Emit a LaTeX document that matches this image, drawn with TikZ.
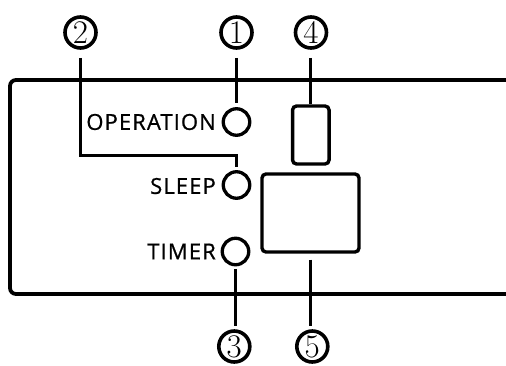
\documentclass[tikz,border=0pt]{standalone}
\usepackage{fontspec}
\newfontfamily\lblfont{Open Sans}[LetterSpace=5,FakeBold=0.8]
\begin{document}
\begin{tikzpicture}[x=1pt,y=-1pt,
  numc/.style={circle,draw,line width=3.6pt,minimum size=31pt,inner sep=0pt,
    font=\fontsize{33}{33}\selectfont},
  led/.style={circle,draw,line width=3.3pt,minimum size=26.5pt,inner sep=0pt},
  lbl/.style={anchor=east,inner sep=0pt,font=\lblfont\fontsize{22}{22}\selectfont},
  lead/.style={line width=3.2pt},
  box/.style={draw,line width=3.4pt,rounded corners=4pt,inner sep=0pt}]
\useasboundingbox (0,0) rectangle (506,365);
\clip (0,0) rectangle (506,365);
% outer panel
\draw[line width=3.8pt,rounded corners=6pt] (10,80) rectangle (520,294);
% indicator lamps
\node[led] (op) at (236.5,122) {};
\node[led] (sl) at (236.5,185) {};
\node[led] (ti) at (235.5,251.5) {};
\node[lbl] (opl) at (216,122) {OPERATION};
\node[lbl] (sll) at (216,186) {SLEEP};
\node[lbl] (til) at (216,251.5) {TIMER};
% displays
\node[box,minimum width=36.5pt,minimum height=58pt] (small) at (310.8,135) {};
\node[box,minimum width=97pt,minimum height=78pt] (big) at (310.5,213) {};
% circled numbers
\node[numc] (n2) at (80.5,32.5) {2};
\node[numc] (n1) at (236.5,32.5) {1};
\node[numc] (n4) at (311,32.5) {4};
\node[numc] (n3) at (234.3,346.5) {3};
\node[numc] (n5) at (312.3,346.5) {5};
% leaders
\draw[lead] ([yshift=-8pt]n2.south) -- ++(0,98) -| ([yshift=3pt]sl.north);
\draw[lead] ([yshift=-8pt]n1.south) -- ([yshift=4pt]op.north);
\draw[lead] ([yshift=-8pt]small.north |- n4.south) -- (small.north);
\draw[lead] ([yshift=-3pt]ti.south) -- ([yshift=3pt]ti.south |- n3.north);
\draw[lead] ([yshift=-6pt]big.south) -- ([yshift=3pt]big.south |- n5.north);
\end{tikzpicture}
\end{document}
